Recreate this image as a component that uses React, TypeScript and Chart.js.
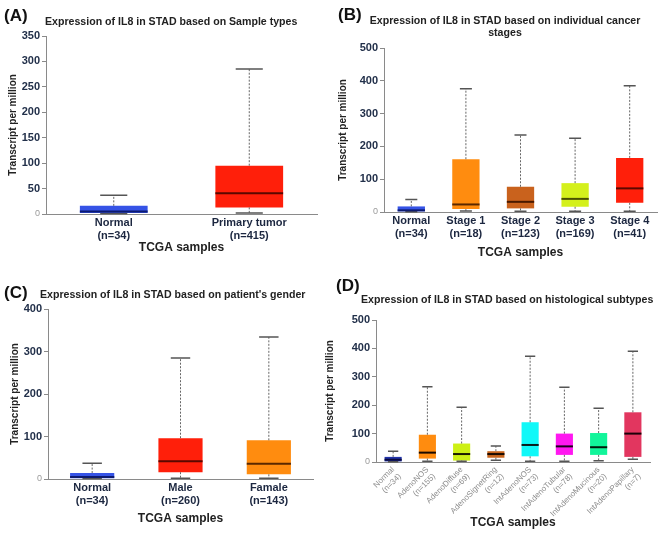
import { useEffect, useRef } from 'react';
import { Chart, registerables, Plugin } from 'chart.js';

Chart.register(...registerables);

const FONT = '"Liberation Sans", Arial, sans-serif';

// (A) sample types
const typeLabels = [['Normal', '(n=34)'], ['Primary tumor', '(n=415)']];
const typeMin = [1, 2];
const typeQ1 = [2, 13];
const typeMedian = [5, 41];
const typeQ3 = [16, 95];
const typeMax = [37, 285];
const typeColors = ['#3553e6', '#ff1f0a'];
const typeMedianColors = ['#0c1a70', '#5a0800'];

// (B) cancer stages
const stageLabels = [
	['Normal', '(n=34)'],
	['Stage 1', '(n=18)'],
	['Stage 2', '(n=123)'],
	['Stage 3', '(n=169)'],
	['Stage 4', '(n=41)'],
];
const stageMin = [1, 3, 2, 2, 2];
const stageQ1 = [2, 9, 11, 16, 28];
const stageMedian = [5, 23, 31, 40, 72];
const stageQ3 = [17, 161, 77, 88, 165];
const stageMax = [38, 376, 235, 225, 385];
const stageColors = ['#3553e6', '#ff8c0f', '#c9621d', '#d4f01c', '#ff1f0a'];
const stageMedianColors = ['#0c1a70', '#5a2800', '#4a1a00', '#4a5000', '#5a0800'];

// (C) gender
const genderLabels = [['Normal', '(n=34)'], ['Male', '(n=260)'], ['Famale', '(n=143)']];
const genderMin = [1, 2, 2];
const genderQ1 = [2, 16, 11];
const genderMedian = [5, 42, 36];
const genderQ3 = [14, 96, 91];
const genderMax = [37, 285, 334];
const genderColors = ['#3553e6', '#ff1f0a', '#ff8c0f'];
const genderMedianColors = ['#0c1a70', '#5a0800', '#5a2800'];

// (D) histological subtypes
const histLabels = [
	['Normal', '(n=34)'],
	['AdenoNOS', '(n=155)'],
	['AdenoDiffuse', '(n=69)'],
	['AdenoSignetRing', '(n=12)'],
	['IntAdenoNOS', '(n=73)'],
	['IntAdenoTubular', '(n=78)'],
	['IntAdenoMucinous', '(n=20)'],
	['IntAdenoPapillary', '(n=7)'],
];
const histMin = [1, 3, 3, 6, 3, 3, 4, 10];
const histQ1 = [2, 12, 5, 15, 20, 25, 25, 18];
const histMedian = [8, 33, 28, 28, 60, 55, 52, 100];
const histQ3 = [18, 96, 65, 38, 140, 100, 102, 175];
const histMax = [38, 265, 193, 56, 372, 263, 189, 390];
const histColors = ['#2233a8', '#ff8c0f', '#cdf015', '#c8661e', '#10f8f8', '#ff18f0', '#12f59a', '#e2365f'];
const histMedianColors = ['#0a0a40', '#1a0a00', '#1a1a00', '#1a0a00', '#0a1a1a', '#1a001a', '#001a0a', '#1a0008'];

const boxWhisker: Plugin<'bar'> = {
	id: 'boxWhisker',
	afterDatasetsDraw(chart, _args, opts: any) {
		const { ctx } = chart;
		const y = chart.scales.y;
		const meta = chart.getDatasetMeta(0);
		const boxes = chart.data.datasets[0].data as unknown as number[][];
		meta.data.forEach((bar: any, i) => {
			const [q1, q3] = boxes[i];
			const x = bar.x;
			const w = bar.width;
			const yMin = y.getPixelForValue(opts.mins[i]);
			const yMax = y.getPixelForValue(opts.maxs[i]);
			const yQ1 = y.getPixelForValue(q1);
			const yQ3 = y.getPixelForValue(q3);
			const yMed = y.getPixelForValue(opts.medians[i]);
			ctx.save();
			// dashed whiskers
			ctx.strokeStyle = '#666';
			ctx.lineWidth = 1;
			ctx.setLineDash([2, 1.5]);
			ctx.beginPath();
			ctx.moveTo(x, yQ3);
			ctx.lineTo(x, yMax);
			ctx.moveTo(x, yQ1);
			ctx.lineTo(x, yMin);
			ctx.stroke();
			// caps
			ctx.setLineDash([]);
			ctx.strokeStyle = '#555';
			ctx.lineWidth = 1.5;
			const cap = w * opts.cap;
			ctx.beginPath();
			ctx.moveTo(x - cap, yMax);
			ctx.lineTo(x + cap, yMax);
			ctx.moveTo(x - cap, yMin);
			ctx.lineTo(x + cap, yMin);
			ctx.stroke();
			// median
			ctx.strokeStyle = opts.medianColors[i];
			ctx.lineWidth = 2;
			ctx.beginPath();
			ctx.moveTo(x - w / 2, yMed);
			ctx.lineTo(x + w / 2, yMed);
			ctx.stroke();
			ctx.restore();
		});
	},
};

type PanelProps = {
	left: number;
	top: number;
	width: number;
	height: number;
	labels: string[][];
	mins: number[];
	q1: number[];
	medians: number[];
	q3: number[];
	maxs: number[];
	colors: string[];
	medianColors: string[];
	yMax: number;
	yStep: number;
	pad: { top: number; right: number; bottom: number; left: number };
	yWidth: number;
	xHeight: number;
	small?: boolean;
	cap?: number;
};

function BoxPanel(p: PanelProps) {
	const canvasRef = useRef<HTMLCanvasElement>(null);

	useEffect(() => {
		if (!canvasRef.current) return;
		const chart = new Chart(canvasRef.current, {
			type: 'bar',
			data: {
				labels: p.labels,
				datasets: [
					{
						data: p.q1.map((v, i) => [v, p.q3[i]]) as any,
						backgroundColor: p.colors,
						borderWidth: 0,
						barPercentage: 0.5,
						categoryPercentage: 1,
					},
				],
			},
			options: {
				animation: false,
				responsive: true,
				maintainAspectRatio: false,
				layout: { padding: p.pad },
				plugins: {
					legend: { display: false },
					tooltip: { enabled: false },
					boxWhisker: {
						mins: p.mins,
						medians: p.medians,
						maxs: p.maxs,
						medianColors: p.medianColors,
						cap: p.cap ?? 0.22,
					},
				} as any,
				scales: {
					x: {
						afterFit: (s) => {
							s.height = p.xHeight;
						},
						grid: { display: false, drawTicks: false, tickLength: 0 },
						border: { display: true, color: '#8a8a8a', width: 1 },
						ticks: p.small
							? {
									autoSkip: false,
									minRotation: 45,
									maxRotation: 45,
									padding: 3,
									color: '#8c8c8c',
									font: { family: FONT, size: 8 },
							  }
							: {
									autoSkip: false,
									maxRotation: 0,
									padding: 3,
									color: '#1c2740',
									font: { family: FONT, size: 11, weight: 'bold', lineHeight: 1.15 },
							  },
						title: {
							display: true,
							text: 'TCGA samples',
							color: '#222',
							padding: 0,
							font: { family: FONT, size: 12, weight: 'bold' },
						},
					},
					y: {
						min: 0,
						max: p.yMax,
						afterFit: (s) => {
							s.width = p.yWidth;
						},
						grid: { drawOnChartArea: false, drawTicks: true, tickLength: 4, color: '#8a8a8a' },
						border: { display: true, color: '#8a8a8a', width: 1 },
						ticks: {
							stepSize: p.yStep,
							padding: 2,
							color: (c: any) => (c.tick && c.tick.value === 0 ? '#9a9a9a' : '#22304a'),
							font: (c: any) =>
								c.tick && c.tick.value === 0
									? { family: FONT, size: 9 }
									: { family: FONT, size: 11, weight: 'bold' },
						},
						title: {
							display: true,
							text: 'Transcript per million',
							color: '#222',
							padding: 0,
							font: { family: FONT, size: 10, weight: 'bold' },
						},
					},
				},
			},
			plugins: [boxWhisker],
		});
		return () => chart.destroy();
	});

	return (
		<div style={{ position: 'absolute', left: p.left, top: p.top, width: p.width, height: p.height }}>
			<canvas ref={canvasRef}></canvas>
		</div>
	);
}

const letterStyle = {
	position: 'absolute' as const,
	fontFamily: FONT,
	fontWeight: 'bold' as const,
	fontSize: 17,
	lineHeight: '20px',
	color: '#111',
};

const titleStyle = {
	position: 'absolute' as const,
	fontFamily: FONT,
	fontWeight: 'bold' as const,
	fontSize: 10.6,
	lineHeight: '12px',
	color: '#222',
	whiteSpace: 'nowrap' as const,
};

export default function App() {
	return (
		<div style={{ position: 'absolute', left: 0, top: 0, width: 669, height: 544, background: '#fff', overflow: 'hidden' }}>
			<BoxPanel
				left={0}
				top={0}
				width={335}
				height={270}
				labels={typeLabels}
				mins={typeMin}
				q1={typeQ1}
				medians={typeMedian}
				q3={typeQ3}
				maxs={typeMax}
				colors={typeColors}
				medianColors={typeMedianColors}
				yMax={350}
				yStep={50}
				pad={{ top: 36, right: 18, bottom: 15, left: 7 }}
				yWidth={39}
				xHeight={41}
				cap={0.2}
			/>
			<BoxPanel
				left={335}
				top={0}
				width={334}
				height={270}
				labels={stageLabels}
				mins={stageMin}
				q1={stageQ1}
				medians={stageMedian}
				q3={stageQ3}
				maxs={stageMax}
				colors={stageColors}
				medianColors={stageMedianColors}
				yMax={500}
				yStep={100}
				pad={{ top: 48, right: 12, bottom: 10, left: 2 }}
				yWidth={47}
				xHeight={48}
			/>
			<BoxPanel
				left={0}
				top={270}
				width={335}
				height={274}
				labels={genderLabels}
				mins={genderMin}
				q1={genderQ1}
				medians={genderMedian}
				q3={genderQ3}
				maxs={genderMax}
				colors={genderColors}
				medianColors={genderMedianColors}
				yMax={400}
				yStep={100}
				pad={{ top: 39, right: 22, bottom: 18, left: 9 }}
				yWidth={39}
				xHeight={47}
			/>
			<BoxPanel
				left={320}
				top={270}
				width={349}
				height={274}
				labels={histLabels}
				mins={histMin}
				q1={histQ1}
				medians={histMedian}
				q3={histQ3}
				maxs={histMax}
				colors={histColors}
				medianColors={histMedianColors}
				yMax={500}
				yStep={100}
				pad={{ top: 50, right: 19, bottom: 14, left: 4 }}
				yWidth={52}
				xHeight={68}
				small
				cap={0.3}
			/>

			<div style={{ ...letterStyle, left: 4, top: 6 }}>(A)</div>
			<div style={{ ...titleStyle, left: 45, top: 15 }}>Expression of IL8 in STAD based on Sample types</div>

			<div style={{ ...letterStyle, left: 338, top: 5 }}>(B)</div>
			<div style={{ ...titleStyle, left: 365, top: 14, width: 280, textAlign: 'center' }}>
				Expression of IL8 in STAD based on individual cancer
				<br />
				stages
			</div>

			<div style={{ ...letterStyle, left: 4, top: 283 }}>(C)</div>
			<div style={{ ...titleStyle, left: 40, top: 288 }}>Expression of IL8 in STAD based on patient's gender</div>

			<div style={{ ...letterStyle, left: 336, top: 276 }}>(D)</div>
			<div style={{ ...titleStyle, left: 361, top: 293 }}>Expression of IL8 in STAD based on histological subtypes</div>
		</div>
	);
}
